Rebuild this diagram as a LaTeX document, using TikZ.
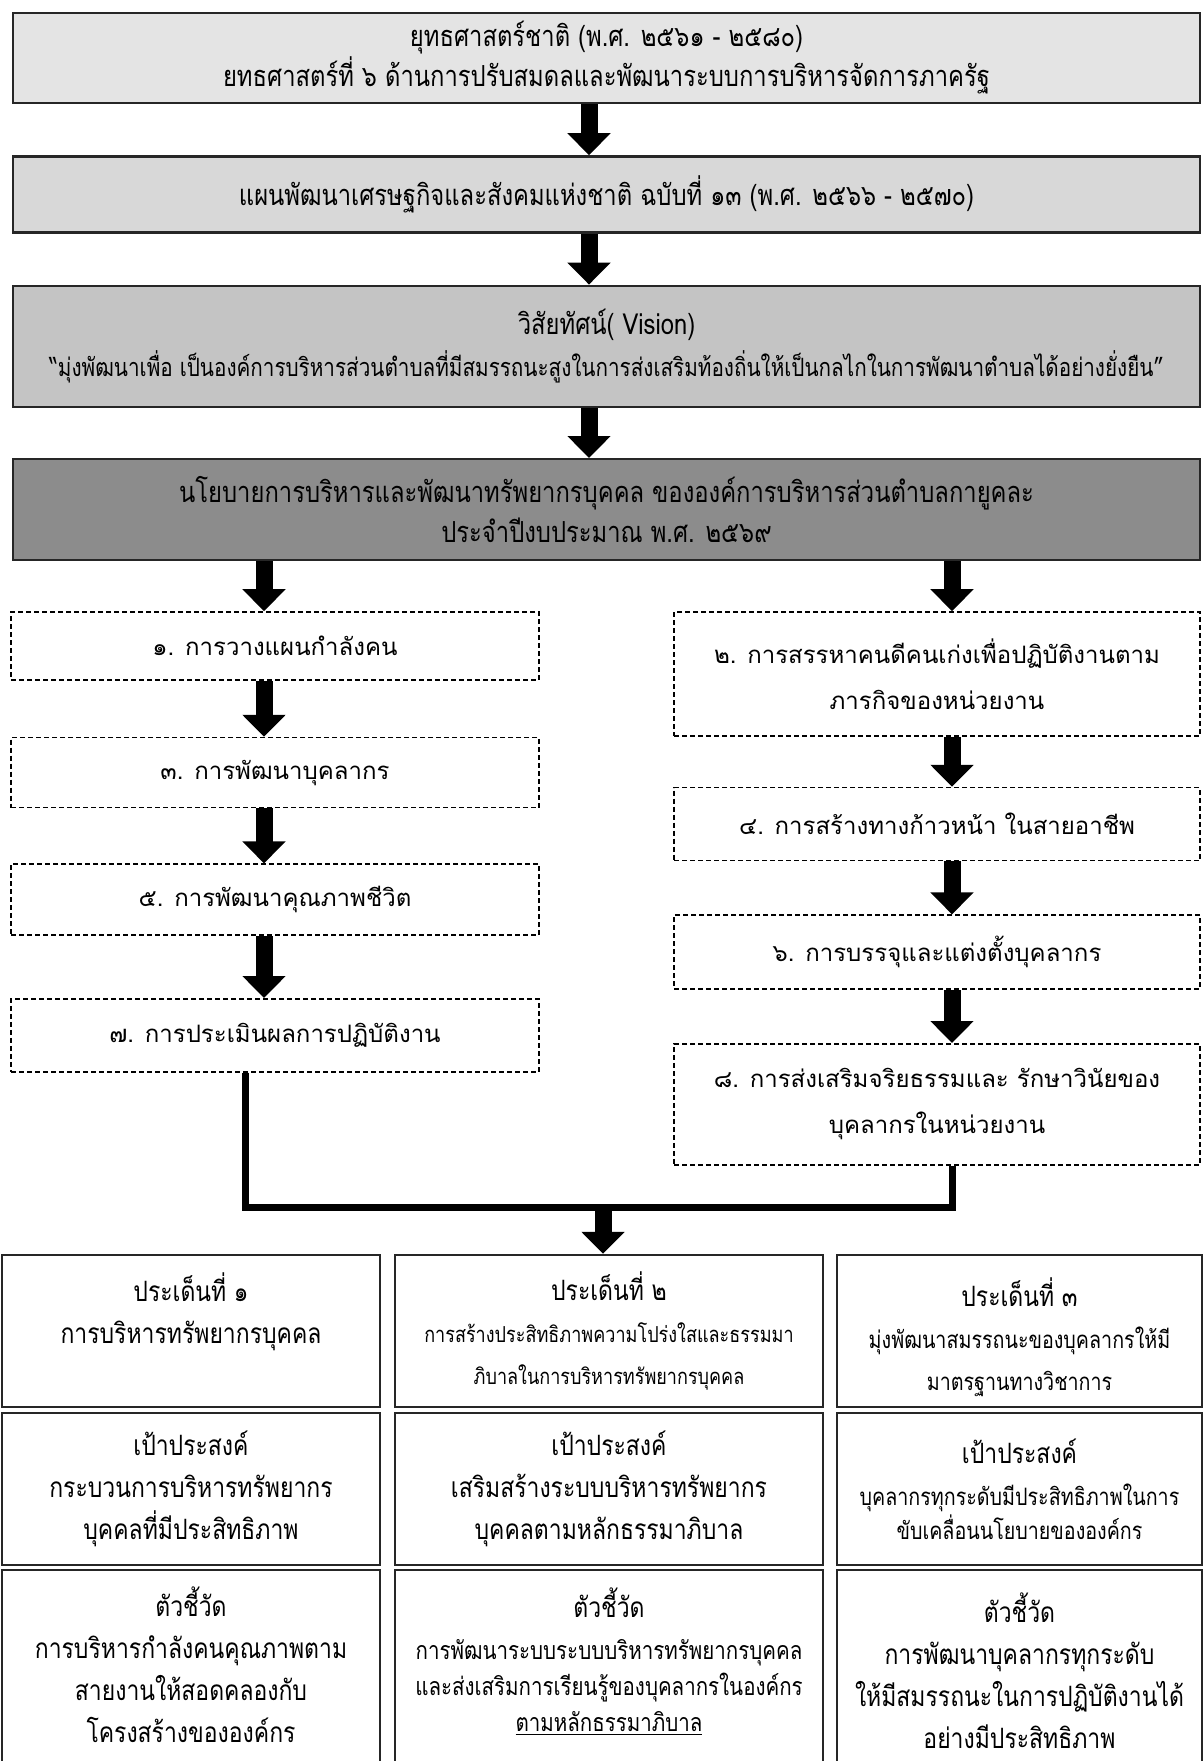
\documentclass[tikz,border=0pt]{standalone}
\usepackage{fontspec}
\setmainfont[Script=Thai]{Loma}
\newfontfamily\condfont[Script=Thai,FakeStretch=0.82]{Loma}
\usetikzlibrary{arrows.meta, positioning}
\definecolor{boxline}{HTML}{262626}
\definecolor{fillone}{HTML}{E4E4E4}
\definecolor{filltwo}{HTML}{D8D8D8}
\definecolor{fillthree}{HTML}{C4C4C4}
\definecolor{fillfour}{HTML}{8C8C8C}
\tikzset{
  headbox/.style={
    rectangle, draw=boxline, line width=1.2pt, align=center,
    minimum width=593.5pt, inner sep=0pt,
    font=\condfont\fontsize{14.5}{20}\selectfont
  },
  stepbox/.style={
    rectangle, draw=black, dash pattern=on 2.5pt off 1.5pt,
    line width=0.8pt, fill=white, align=center, inner sep=0pt,
    font=\fontsize{12}{23}\selectfont
  },
  leftbox/.style={stepbox, minimum width=264pt},
  rightbox/.style={stepbox, minimum width=263pt},
  cellbox/.style={
    rectangle, draw=boxline, line width=1.2pt, inner sep=0pt
  },
  celltext/.style={
    align=center, inner sep=0pt,
    font=\condfont\fontsize{14}{21}\selectfont
  },
  bigarrow/.style={line width=8.5pt, -{Triangle[width=21pt,length=11pt]}},
  joinline/.style={line width=3.5pt, line join=miter},
}

\begin{document}
\begin{tikzpicture}[x=0.5pt, y=-0.5pt]
  \useasboundingbox[fill=white] (0,0) rectangle (1203,1761);

  % upper chain
  \node[headbox, fill=fillone, minimum height=45pt] (strat) at (606.5,58)
    {ยุทธศาสตร์ชาติ (พ.ศ. ๒๕๖๑ - ๒๕๘๐)\\ยทธศาสตร์ที่ ๖ ด้านการปรับสมดลและพัฒนาระบบการบริหารจัดการภาครัฐ};
  \node[headbox, fill=filltwo, minimum height=38pt, below=25.5pt of strat] (plan)
    {แผนพัฒนาเศรษฐกิจและสังคมแห่งชาติ ฉบับที่ ๑๓ (พ.ศ. ๒๕๖๖ - ๒๕๗๐)};
  \node[headbox, fill=fillthree, minimum height=60.5pt, below=25.5pt of plan] (vision)
    {วิสัยทัศน์( Vision)\\[1pt]{\fontsize{12.6}{20}\selectfont “มุ่งพัฒนาเพื่อ เป็นองค์การบริหารส่วนตำบลที่มีสมรรถนะสูงในการส่งเสริมท้องถิ่นให้เป็นกลไกในการพัฒนาตำบลได้อย่างยั่งยืน”}};
  \node[headbox, fill=fillfour, minimum height=50.5pt, below=25pt of vision] (policy)
    {นโยบายการบริหารและพัฒนาทรัพยากรบุคคล ขององค์การบริหารส่วนตำบลกายูคละ\\ประจำปีงบประมาณ พ.ศ. ๒๕๖๙};

  \draw[bigarrow] ([xshift=-8.75pt]strat.south) -- ([xshift=-8.75pt]plan.north);
  \draw[bigarrow] ([xshift=-8.75pt]plan.south) -- ([xshift=-8.75pt]vision.north);
  \draw[bigarrow] ([xshift=-8.75pt]vision.south) -- ([xshift=-8.75pt]policy.north);

  % left column
  \node[leftbox, minimum height=34pt] (work1) at (275,646) {๑. การวางแผนกำลังคน};
  \node[leftbox, minimum height=35pt, below=28pt of work1] (work3) {๓. การพัฒนาบุคลากร};
  \node[leftbox, minimum height=35.5pt, below=27.5pt of work3] (work5) {๕. การพัฒนาคุณภาพชีวิต};
  \node[leftbox, minimum height=36.5pt, below=31pt of work5] (work7) {๗. การประเมินผลการปฏิบัติงาน};

  % right column
  \node[rightbox, minimum height=62pt] (work2) at (937,674)
    {๒. การสรรหาคนดีคนเก่งเพื่อปฏิบัติงานตาม\\ภารกิจของหน่วยงาน};
  \node[rightbox, minimum height=36.5pt, below=25pt of work2] (work4) {๔. การสร้างทางก้าวหน้า ในสายอาชีพ};
  \node[rightbox, minimum height=37pt, below=26.5pt of work4] (work6) {๖. การบรรจุและแต่งตั้งบุคลากร};
  \node[rightbox, minimum height=60.5pt, below=26.5pt of work6] (work8)
    {๘. การส่งเสริมจริยธรรมและ รักษาวินัยของ\\บุคลากรในหน่วยงาน};

  \coordinate (lefttop) at ([xshift=-5.5pt]work1.north);
  \coordinate (righttop) at ([xshift=7.5pt]work2.north);
  \draw[bigarrow] (lefttop |- policy.south) -- (lefttop);
  \draw[bigarrow] (righttop |- policy.south) -- (righttop);

  \draw[bigarrow] ([xshift=-5.5pt]work1.south) -- ([xshift=-5.5pt]work3.north);
  \draw[bigarrow] ([xshift=-5.5pt]work3.south) -- ([xshift=-5.5pt]work5.north);
  \draw[bigarrow] ([xshift=-5.5pt]work5.south) -- ([xshift=-5.5pt]work7.north);
  \draw[bigarrow] ([xshift=7.5pt]work2.south) -- ([xshift=7.5pt]work4.north);
  \draw[bigarrow] ([xshift=7.5pt]work4.south) -- ([xshift=7.5pt]work6.north);
  \draw[bigarrow] ([xshift=7.5pt]work6.south) -- ([xshift=7.5pt]work8.north);

  % bottom grid
  \begin{scope}
    \clip (0,0) rectangle (1203,1761);
    \node[cellbox, minimum width=189pt, minimum height=76pt] (issue1) at (191,1331) {};
    \node[cellbox, minimum width=214pt, minimum height=76pt] (issue2) at (609,1331) {};
    \node[cellbox, minimum width=182.5pt, minimum height=76pt] (issue3) at (1019.5,1331) {};
    \node[cellbox, minimum width=189pt, minimum height=76pt] (goal1) at (191,1489) {};
    \node[cellbox, minimum width=214pt, minimum height=76pt] (goal2) at (609,1489) {};
    \node[cellbox, minimum width=182.5pt, minimum height=76pt] (goal3) at (1019.5,1489) {};
    \node[cellbox, minimum width=189pt, minimum height=105pt] (kpi1) at (191,1675) {};
    \node[cellbox, minimum width=214pt, minimum height=105pt] (kpi2) at (609,1675) {};
    \node[cellbox, minimum width=182.5pt, minimum height=105pt] (kpi3) at (1019.5,1675) {};
  \end{scope}

  \node[celltext] (issuetext1) at ([yshift=9.5pt]issue1.center)
    {ประเด็นที่ ๑\\การบริหารทรัพยากรบุคคล};
  \node[celltext] (issuetext2) at (issue2.center)
    {ประเด็นที่ ๒\\{\fontsize{11}{18}\selectfont การสร้างประสิทธิภาพความโปร่งใสและธรรมมา}\\{\fontsize{11}{18}\selectfont ภิบาลในการบริหารทรัพยากรบุคคล}};
  \node[celltext] (issuetext3) at ([yshift=-3pt]issue3.center)
    {ประเด็นที่ ๓\\{\fontsize{12}{20}\selectfont มุ่งพัฒนาสมรรถนะของบุคลากรให้มี}\\{\fontsize{12}{20}\selectfont มาตรฐานทางวิชาการ}};
  \node[celltext] (goaltext1) at (goal1.center)
    {เป้าประสงค์\\กระบวนการบริหารทรัพยากร\\บุคคลที่มีประสิทธิภาพ};
  \node[celltext] (goaltext2) at (goal2.center)
    {เป้าประสงค์\\เสริมสร้างระบบบริหารทรัพยากร\\บุคคลตามหลักธรรมาภิบาล};
  \node[celltext] (goaltext3) at (goal3.center)
    {เป้าประสงค์\\{\fontsize{12}{19}\selectfont บุคลากรทุกระดับมีประสิทธิภาพในการ}\\[-4pt]{\fontsize{12}{19}\selectfont ขับเคลื่อนนโยบายขององค์กร}};
  \node[celltext] (kpitext1) at ([yshift=5pt]kpi1.center)
    {ตัวชี้วัด\\การบริหารกำลังคนคุณภาพตาม\\สายงานให้สอดคลองกับ\\โครงสร้างขององค์กร};
  \node[celltext] (kpitext2) at ([yshift=6.5pt]kpi2.center)
    {ตัวชี้วัด\\{\fontsize{12.5}{17}\selectfont การพัฒนาระบบระบบบริหารทรัพยากรบุคคล}\\[-3pt]{\fontsize{12.5}{17}\selectfont และส่งเสริมการเรียนรู้ของบุคลากรในองค์กร}\\[-3pt]{\fontsize{12.5}{17}\selectfont\underline{ตามหลักธรรมาภิบาล}}};
  \node[celltext] (kpitext3) at ([yshift=2pt]kpi3.center)
    {ตัวชี้วัด\\การพัฒนาบุคลากรทุกระดับ\\ให้มีสมรรถนะในการปฏิบัติงานได้\\อย่างมีประสิทธิภาพ};

  % joining line
  \coordinate (joint) at (603,1207);
  \coordinate (leftdrop) at ([xshift=-15pt]work7.south);
  \coordinate (rightdrop) at ([xshift=7.5pt]work8.south);
  \draw[joinline] (leftdrop) -- (leftdrop |- joint) -- (rightdrop |- joint) -- (rightdrop);
  \draw[bigarrow] (joint) -- (joint |- issue2.north);
\end{tikzpicture}
\end{document}
